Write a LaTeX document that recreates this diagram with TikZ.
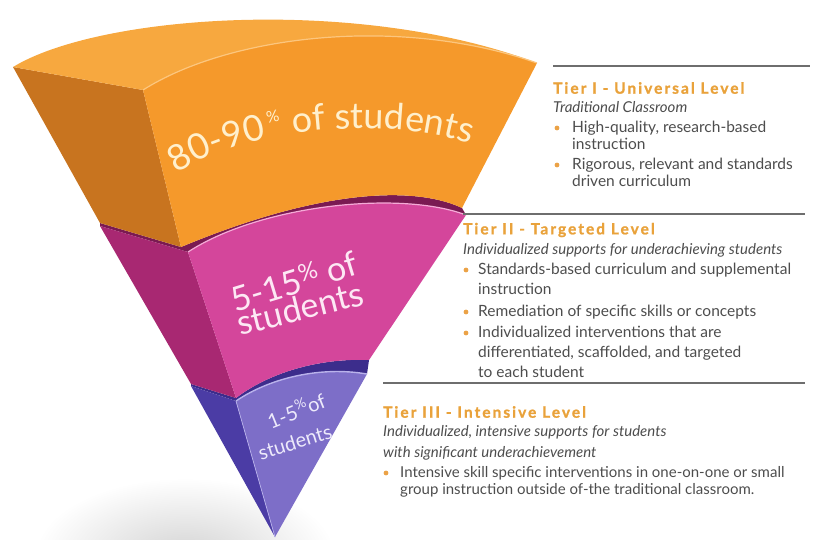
\documentclass[tikz,border=0pt]{standalone}
\usepackage{fontspec}
\setmainfont{Lato}
\newfontfamily\tierfont{Lato}[LetterSpace=13,BoldFeatures={FakeBold=1.2}]
\usetikzlibrary{decorations.text}

\definecolor{orfront}{HTML}{F5992B}
\definecolor{ortop}{HTML}{F7A83F}
\definecolor{orleft}{HTML}{C8741F}
\definecolor{orhi}{HTML}{FCC67E}
\definecolor{orlabel}{HTML}{FFF0CD}
\definecolor{pkfront}{HTML}{D4469B}
\definecolor{pkleft}{HTML}{A82872}
\definecolor{pktop}{HTML}{7A1A52}
\definecolor{pkhi}{HTML}{F5AAD7}
\definecolor{pklabel}{HTML}{FDE8F4}
\definecolor{pufront}{HTML}{7D6EC8}
\definecolor{puleft}{HTML}{4B3CA5}
\definecolor{putop}{HTML}{3C2D8C}
\definecolor{puhi}{HTML}{B9B2EB}
\definecolor{pulabel}{HTML}{EDEAFB}
\definecolor{titleorange}{HTML}{E9A23B}
\definecolor{bodygray}{HTML}{4D4D4D}
\definecolor{rulegray}{HTML}{6E6E6E}
\definecolor{dotorange}{HTML}{EBA246}

\newcommand\tieronefont{\fontsize{36}{36}\selectfont}

\tikzset{
  tiertitle/.style={anchor=west, inner sep=0pt, text=titleorange,
    font=\tierfont\bfseries\fontsize{15.5}{17}\selectfont},
  tiersub/.style={anchor=north west, inner sep=0pt, align=left, text=bodygray,
    font=\itshape\fontsize{15}{21}\selectfont},
  tieritem/.style={anchor=north west, inner sep=0pt, align=left, text=bodygray,
    font=\fontsize{15.5}{17}\selectfont},
  tieritemwide/.style={tieritem, font=\fontsize{15.5}{20}\selectfont},
  tierrule/.style={draw=rulegray, line width=1.1pt},
  tierdot/.style={fill=dotorange},
  seglabel/.style={inner sep=0pt},
  arclabel/.style={decorate, decoration={text along path, text color=orlabel,
    text align={align=left, left indent=#1}}}
}

\begin{document}
\begin{tikzpicture}[x=1pt,y=-1pt]
\useasboundingbox (0,0) rectangle (817,539);

% shadow on the floor
\shade[inner color=black!17, outer color=white] (185,556) ellipse (150 and 78);

% tier III wedge
\fill[putop] (191,386) -- (236,401) .. controls (270,378) and (320,366) .. (367,374)
  -- (369,360) .. controls (320,358) and (270,372) .. (236,398) -- (191,384) -- cycle;
\fill[puleft] (191,386) -- (236,401) -- (275,537) -- cycle;
\fill[pufront] (236,401) .. controls (270,378) and (320,366) .. (367,374) -- (275,537) -- cycle;
\draw[puhi, line width=1.4pt] (236,401) .. controls (270,378) and (320,366) .. (367,374);
\draw[puhi, line width=.7pt] (236,401) -- (275,537);

% tier II wedge
\fill[pktop] (100,226) -- (188,252) .. controls (260,205) and (400,190) .. (466,215)
  -- (462,208) .. controls (420,188) and (330,185) .. (181,247) -- (100,223) -- cycle;
\fill[pkleft] (100,226) -- (188,252) -- (236,398) -- (191,384) -- cycle;
\fill[pkfront] (188,252) .. controls (260,205) and (400,190) .. (466,215) -- (369,360)
  .. controls (320,358) and (270,372) .. (236,398) -- cycle;
\draw[pkhi, line width=1.2pt] (188,252) .. controls (260,205) and (400,190) .. (466,215);

% tier I wedge
\fill[orleft] (13,67) -- (143,90) -- (181,247) -- (100,223) -- cycle;
\fill[orfront] (143,90) .. controls (230,35) and (400,15) .. (537,63) -- (462,208)
  .. controls (420,188) and (330,185) .. (181,247) -- cycle;
\fill[ortop] (13,67) .. controls (100,14) and (360,-4) .. (537,63)
  .. controls (400,15) and (230,35) .. (143,90) -- cycle;
\draw[orhi, line width=1.2pt] (143,90) .. controls (230,35) and (400,15) .. (537,63);

% wedge labels
\path[arclabel=6pt, decoration={text={|\tieronefont|80-90}}]
  (172,177) .. controls (245,125) and (390,115) .. (478,146) -- (497,153);
\path[arclabel=130pt, decoration={text={|\tieronefont|of students}}]
  (172,177) .. controls (245,125) and (390,115) .. (478,146) -- (497,153);
\path (172,177) .. controls (245,125) and (390,115) .. (478,146)
  node[sloped, pos=0.352, anchor=base west, inner sep=0pt, text=orlabel,
    font=\fontsize{16}{16}\selectfont] (or1) {\raisebox{14pt}{\%}};
\node[seglabel, text=pklabel, font=\fontsize{34}{36}\selectfont, rotate=17] (pk1) at (294,281) {5-15\textsuperscript{\%} of};
\node[seglabel, text=pklabel, font=\fontsize{34}{36}\selectfont, rotate=14] (pk2) at (300,308) {students};
\node[seglabel, text=pulabel, font=\fontsize{20}{22}\selectfont, rotate=22] (pu1) at (296,410) {1-5\textsuperscript{\%}of};
\node[seglabel, text=pulabel, font=\fontsize{20}{22}\selectfont, rotate=17] (pu2) at (295,442) {students};

% tier I text
\draw[tierrule] (553,66) -- (810,66);
\node[tiertitle] (t1title) at (553,88) {Tier I - Universal Level};
\node[tiersub] (t1sub) at (553,101) {Traditional Classroom};
\node[tieritem] (t1a) at (572,121) {High-quality, research-based\\instruction};
\node[tieritem] (t1b) at (572,158) {Rigorous, relevant and standards\\driven curriculum};
\fill[tierdot] ([xshift=-15pt,yshift=-7pt]t1a.north west) circle (2.4);
\fill[tierdot] ([xshift=-15pt,yshift=-7pt]t1b.north west) circle (2.4);

% tier II text
\draw[tierrule] (463,214) -- (805,214);
\node[tiertitle] (t2title) at (463,230) {Tier II - Targeted Level};
\node[tiersub] (t2sub) at (463,243) {Individualized supports for underachieving students};
\node[tieritemwide] (t2a) at (478,263) {Standards-based curriculum and supplemental\\instruction};
\node[tieritemwide] (t2b) at (478,305) {Remediation of specific skills or concepts};
\node[tieritemwide] (t2c) at (478,326) {Individualized interventions that are\\differentiated, scaffolded, and targeted\\to each student};
\fill[tierdot] ([xshift=-12pt,yshift=-7pt]t2a.north west) circle (2.4);
\fill[tierdot] ([xshift=-12pt,yshift=-7pt]t2b.north west) circle (2.4);
\fill[tierdot] ([xshift=-12pt,yshift=-7pt]t2c.north west) circle (2.4);

% tier III text
\draw[tierrule] (383,383) -- (805,383);
\node[tiertitle] (t3title) at (383,412) {Tier III - Intensive Level};
\node[tiersub] (t3sub) at (383,425) {Individualized, intensive supports for students\\with significant underachievement};
\node[tieritem, font=\fontsize{15}{17}\selectfont] (t3a) at (400,466) {Intensive skill specific interventions in one-on-one or small\\group instruction outside of-the traditional classroom.};
\fill[tierdot] ([xshift=-14pt,yshift=-7pt]t3a.north west) circle (2.4);
\end{tikzpicture}
\end{document}
